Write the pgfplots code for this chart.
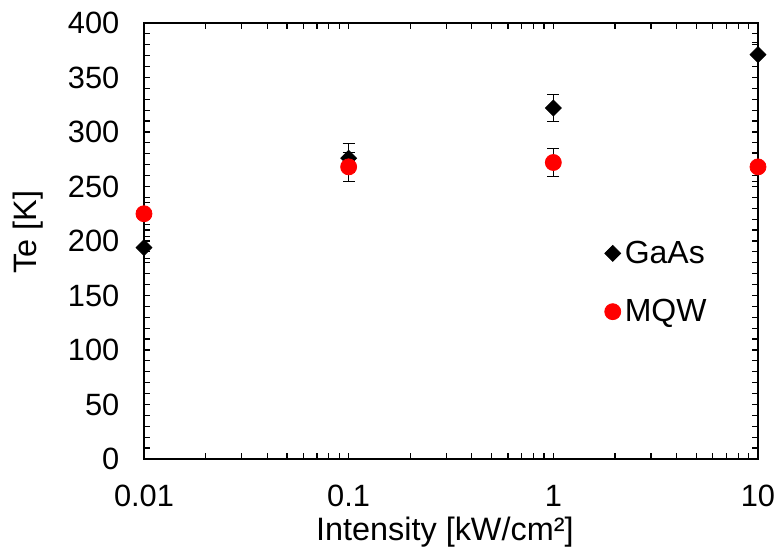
\documentclass[border=0pt]{standalone}
\usepackage{fontspec}
\setmainfont{Liberation Sans}
\usepackage{pgfplots}
\pgfplotsset{compat=1.18}
\begin{document}
\begin{tikzpicture}
\begin{axis}[
  scale only axis,
  width=307pt, height=218pt,
  xmode=log, xmin=0.01, xmax=10,
  ymin=0, ymax=400,
  xtick={0.01,0.1,1,10}, xticklabels={0.01,0.1,1,10},
  ytick={0,50,...,400},
  minor y tick num=4,
  tick align=inside,
  major tick length=3pt, minor tick length=3pt,
  every tick/.style={black, line width=0.6pt},
  axis line style={line width=0.7pt},
  /pgf/number format/assume math mode=true,
  ticklabel style={font=\fontsize{15.4}{18}\selectfont},
  yticklabel style={xshift=-8.8pt},
  xticklabel style={anchor=center, yshift=-18.5pt},
  xlabel={Intensity [kW/cm²]},
  ylabel={Te [K]},
  every axis x label/.style={at={(axis description cs:0.49,0)}, anchor=center, yshift=-36.5pt},
  every axis y label/.style={at={(axis description cs:0,0.52)}, xshift=-58pt, rotate=90, anchor=center},
  label style={font=\fontsize{16.2}{18}\selectfont},
  legend style={draw=none, fill=none, at={(0.74,0.52)}, anchor=north west,
    font=\fontsize{16}{18}\selectfont, row sep=12.5pt,
    legend cell align=left},
  legend image code/.code={\draw[#1] plot coordinates {(0.4em,0)};},
  error bars/error bar style={black, line width=0.5pt},
  error bars/error mark options={rotate=90, mark size=3pt, black, line width=0.5pt},
]
\addplot[only marks, mark=square*, mark size=2.8pt, black, mark options={rotate=45},
  error bars/.cd, y dir=both, y explicit]
  coordinates {
  (0.01,194) +- (0,10)
  (0.1,276) +- (0,13)
  (1,322) +- (0,12)
  (10,371) +- (0,11)
};
\addlegendentry{GaAs}
\addplot[only marks, mark=*, mark size=4pt, red, mark options={fill=red, draw=red},
  error bars/.cd, y dir=both, y explicit]
  coordinates {
  (0.01,225) +- (0,10)
  (0.1,268) +- (0,13)
  (1,272) +- (0,13)
  (10,268) +- (0,13)
};
\addlegendentry{MQW}
\coordinate (sw) at (rel axis cs:0,0);
\coordinate (ne) at (rel axis cs:1,1);
\end{axis}
\pgfresetboundingbox
\path[use as bounding box] ([shift={(-72pt,-45pt)}]sw) rectangle ([shift={(10pt,11.5pt)}]ne);
\end{tikzpicture}
\end{document}
